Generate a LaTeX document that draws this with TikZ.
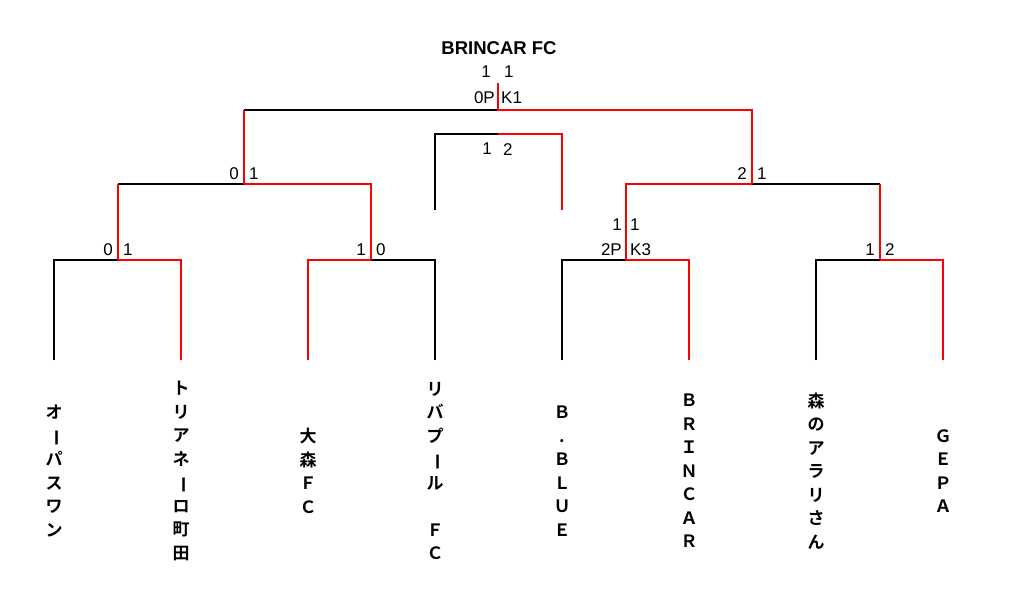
\documentclass[tikz,border=0pt]{standalone}
\usepackage{fontspec}
\setmainfont{Noto Sans CJK JP}[BoldFont={Noto Sans CJK JP Bold}]
\newfontfamily\latinfont{Liberation Sans}
\usetikzlibrary{positioning}
\newcommand{\chouon}{\rotatebox[origin=c]{-90}{ー}}
\tikzset{lose/.style ={
        draw=black,
        line width=1.4pt
    },
    win/.style ={
        draw=red,
        line width=1.4pt
    },
    score/.style ={
        font=\latinfont\fontsize{17}{17}\selectfont,
        inner sep=0pt
    },
    title/.style ={
        font=\latinfont\bfseries\fontsize{18.5}{18.5}\selectfont,
        inner sep=0pt
    },
    team/.style ={
        font=\bfseries\fontsize{17}{23.5}\selectfont,
        align=center,
        inner sep=0pt
    }}

\begin{document}
\begin{tikzpicture}
    [
    x=1pt, y=-1pt
    ]
    \useasboundingbox (0,0) rectangle (1024,596);
    % leaves
    \coordinate (a1) at (54,360);
    \coordinate (a2) at (181,360);
    \coordinate (a3) at (308,360);
    \coordinate (a4) at (435,360);
    \coordinate (a5) at (562,360);
    \coordinate (a6) at (689,360);
    \coordinate (a7) at (816,360);
    \coordinate (a8) at (943,360);
    % rounds
    \coordinate (b1) at (118,260);
    \coordinate (b2) at (371,260);
    \coordinate (b3) at (626,260);
    \coordinate (b4) at (880,260);
    \coordinate (c1) at (244,184);
    \coordinate (c2) at (752,184);
    \coordinate (d) at (498,110);
    \coordinate (top) at (498,83);
    % third place
    \coordinate (e) at (498,134);
    \coordinate (e1) at (435,210);
    \coordinate (e2) at (562,210);

    \draw[lose] (a1) |- (b1);
    \draw[lose] (a4) |- (b2);
    \draw[lose] (a5) |- (b3);
    \draw[lose] (a7) |- (b4);
    \draw[lose] (b1 |- c1) -- (c1);
    \draw[lose] (b4 |- c2) -- (c2);
    \draw[lose] (c1 |- d) -- (d);
    \draw[lose] (e1) |- (e);

    \draw[win] (a2) |- (b1);
    \draw[win] (a3) |- (b2);
    \draw[win] (a6) |- (b3);
    \draw[win] (a8) |- (b4);
    \draw[win] (b1) -- (b1 |- c1);
    \draw[win] (b2) |- (c1);
    \draw[win] (b3) |- (c2);
    \draw[win] (b4) -- (b4 |- c2);
    \draw[win] (c1) -- (c1 |- d);
    \draw[win] (c2) |- (d) -- (top);
    \draw[win] (e2) |- (e);

    % scores
    \node (s1l)[score, above left=4pt and 5pt of b1] {0};
    \node (s1r)[score, above right=4pt and 5pt of b1] {1};
    \node (s2l)[score, above left=4pt and 5pt of b2] {1};
    \node (s2r)[score, above right=4pt and 5pt of b2] {0};
    \node (s3l)[score, above left=4pt and 4pt of b3] {2P};
    \node (s3r)[score, above right=4pt and 4pt of b3] {K3};
    \node (s3lp)[score, anchor=south east] at ([yshift=13pt]s3l.north east) {1};
    \node (s3rp)[score, anchor=south west] at ([yshift=13pt]s3r.north west) {1};
    \node (s4l)[score, above left=4pt and 5pt of b4] {1};
    \node (s4r)[score, above right=4pt and 5pt of b4] {2};
    \node (s5l)[score, above left=4pt and 5pt of c1] {0};
    \node (s5r)[score, above right=4pt and 5pt of c1] {1};
    \node (s6l)[score, above left=4pt and 5pt of c2] {2};
    \node (s6r)[score, above right=4pt and 5pt of c2] {1};
    \node (s7l)[score, above left=6pt and 3pt of d] {0P};
    \node (s7r)[score, above right=6pt and 3pt of d] {K1};
    \node (s7lp)[score, anchor=south east] at ([xshift=-4pt,yshift=14pt]s7l.north east) {1};
    \node (s7rp)[score, anchor=south west] at ([xshift=3pt,yshift=14pt]s7r.north west) {1};
    \node (s8l)[score, below left=9pt and 6pt of e] {1};
    \node (s8r)[score, below right=9pt and 5pt of e] {2};
    \node (champ)[title, anchor=base] at (499,55) {BRINCAR FC};

    % teams
    \node (t1)[team] at (54,471) {オ\\\chouon\\パ\\ス\\ワ\\ン};
    \node (t2)[team] at (181,471) {ト\\リ\\ア\\ネ\\\chouon\\ロ\\町\\田};
    \node (t3)[team] at (308,471) {大\\森\\Ｆ\\Ｃ};
    \node (t4)[team] at (435,471) {リ\\バ\\プ\\\chouon\\ル\\　\\Ｆ\\Ｃ};
    \node (t5)[team] at (562,471) {Ｂ\\.\\Ｂ\\Ｌ\\Ｕ\\Ｅ};
    \node (t6)[team] at (689,471) {Ｂ\\Ｒ\\Ｉ\\Ｎ\\Ｃ\\Ａ\\Ｒ};
    \node (t7)[team] at (816,471) {森\\の\\ア\\ラ\\リ\\さ\\ん};
    \node (t8)[team] at (943,471) {Ｇ\\Ｅ\\Ｐ\\Ａ};
\end{tikzpicture}
\end{document}
